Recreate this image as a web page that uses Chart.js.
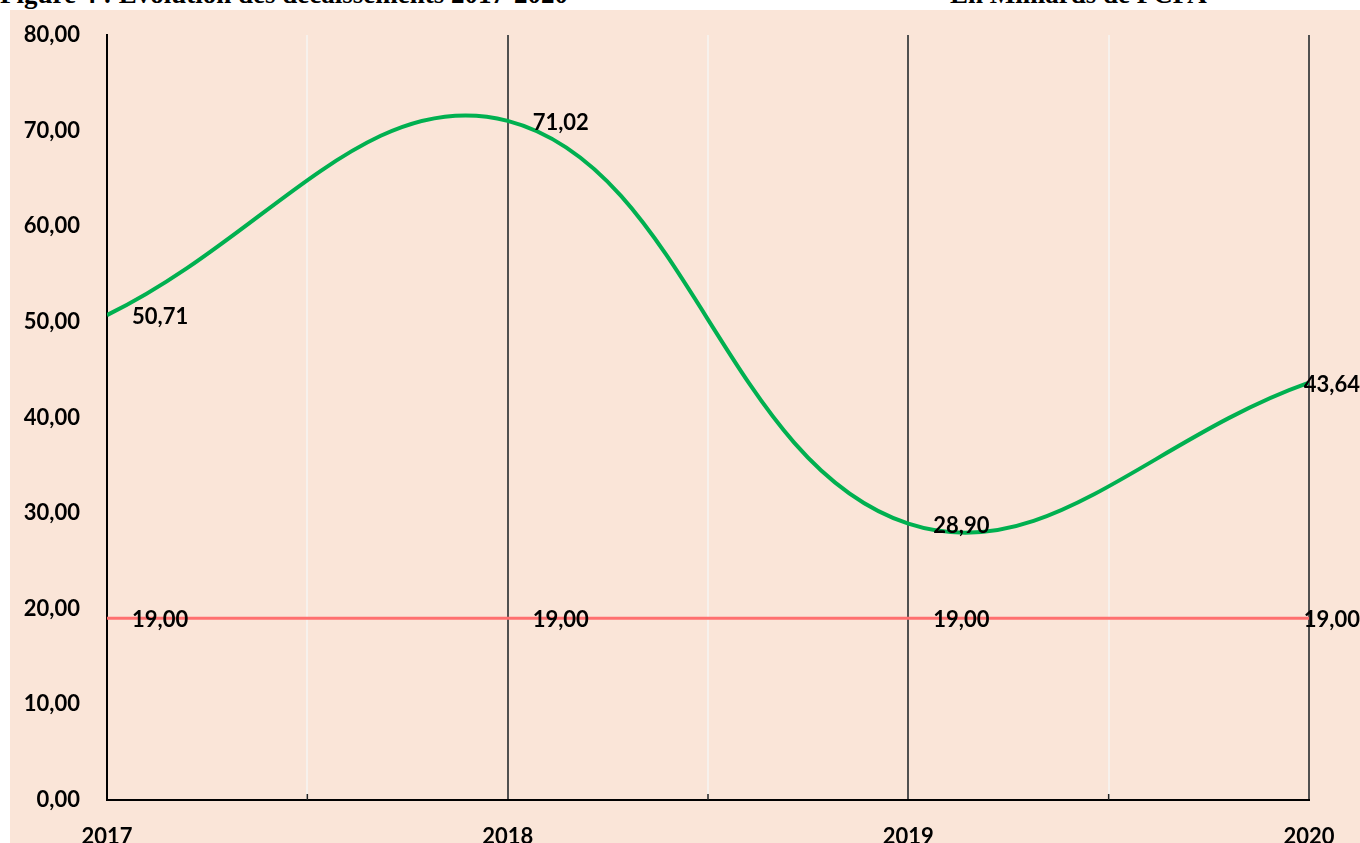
<!DOCTYPE html>
<html>
<head>
<meta charset="utf-8">
<script src="https://cdn.jsdelivr.net/npm/chart.js@4.4.1/dist/chart.umd.min.js"></script>
<style>
  html, body { margin: 0; padding: 0; background: #ffffff; width: 1360px; height: 843px; overflow: hidden; }
  .ttl { position: absolute; top: -19px; font-family: "Liberation Serif", "Times New Roman", serif; font-weight: bold; font-size: 27px; line-height: 27px; color: #000; white-space: nowrap; }
  #wrap { position: absolute; left: 10px; top: 10px; width: 1350px; height: 833px; background: #FAE5D8; }
</style>
</head>
<body>
<div class="ttl" style="left:0px;">Figure 4 : Evolution des décaissements 2017-2020</div>
<div class="ttl" style="left:950px;">En Milliards de FCFA</div>
<div id="wrap"><canvas id="c"></canvas></div>
<script>
const years = [2017, 2018, 2019, 2020];
const disbursements = [50.71, 71.02, 28.90, 43.64];
const threshold = [19.00, 19.00, 19.00, 19.00];
const yMin = 0, yMax = 80, yStep = 10;
const xStep = 0.5;

const fmt = v => v.toFixed(2).replace('.', ',');

const labelPlugin = {
  id: 'valueLabels',
  afterDatasetsDraw(chart) {
    const ctx = chart.ctx;
    ctx.save();
    ctx.font = 'bold 22px Lato';
    ctx.fillStyle = '#000';
    ctx.textBaseline = 'middle';
    ctx.textAlign = 'left';
    chart.data.datasets.forEach((ds, i) => {
      const meta = chart.getDatasetMeta(i);
      meta.data.forEach((el, j) => {
        const t = fmt(ds.data[j].y);
        const w = ctx.measureText(t).width;
        const x = Math.min(el.x + 25, chart.width - w);
        ctx.fillText(t, x, el.y + 2);
      });
    });
    ctx.restore();
  }
};

const minorTicks = {
  id: 'minorTicks',
  afterDraw(chart) {
    const sx = chart.scales.x;
    const ctx = chart.ctx;
    const b = chart.chartArea.bottom;
    ctx.save();
    ctx.strokeStyle = '#222';
    ctx.lineWidth = 1.5;
    sx.ticks.forEach(t => {
      if (!Number.isInteger(t.value)) {
        const px = sx.getPixelForValue(t.value);
        ctx.beginPath();
        ctx.moveTo(px, b);
        ctx.lineTo(px, b - 6);
        ctx.stroke();
      }
    });
    ctx.restore();
  }
};

new Chart(document.getElementById('c'), {
  type: 'line',
  data: {
    datasets: [
      {
        label: 'Décaissements',
        data: years.map((x, i) => ({ x, y: disbursements[i] })),
        borderColor: '#00B050',
        borderWidth: 4,
        pointRadius: 0,
        tension: 0.4,
        fill: false
      },
      {
        label: 'Seuil',
        data: years.map((x, i) => ({ x, y: threshold[i] })),
        borderColor: '#FF6F6F',
        borderWidth: 3,
        pointRadius: 0,
        tension: 0,
        fill: false
      }
    ]
  },
  options: {
    responsive: true,
    maintainAspectRatio: false,
    animation: false,
    layout: { padding: { left: 0, right: 51, top: 25, bottom: 0 } },
    plugins: { legend: { display: false }, tooltip: { enabled: false } },
    scales: {
      x: {
        type: 'linear',
        min: years[0],
        max: years[years.length - 1],
        afterFit: s => { s.height = 43; },
        ticks: {
          stepSize: xStep,
          autoSkip: false,
          maxRotation: 0,
          padding: 24,
          color: '#000',
          font: { family: 'Lato', weight: 'bold', size: 22 },
          callback: v => Number.isInteger(v) ? String(v) : ''
        },
        grid: {
          drawTicks: false,
          color: c => {
            const v = c.tick && c.tick.value;
            if (v === years[0]) return '#000';
            return Number.isInteger(v) ? '#505050' : '#F7F1EC';
          },
          lineWidth: 2
        },
        border: { display: true, color: '#000', width: 2 }
      },
      y: {
        min: yMin,
        max: yMax,
        afterFit: s => { s.width = 97; s.paddingTop = 10; s.paddingBottom = 10; },
        ticks: {
          stepSize: yStep,
          padding: 27,
          color: '#000',
          font: { family: 'Lato', weight: 'bold', size: 22 },
          callback: v => fmt(v)
        },
        grid: { display: false, drawTicks: false },
        border: { display: true, color: '#000', width: 2 }
      }
    }
  },
  plugins: [labelPlugin, minorTicks]
});
</script>
</body>
</html>
